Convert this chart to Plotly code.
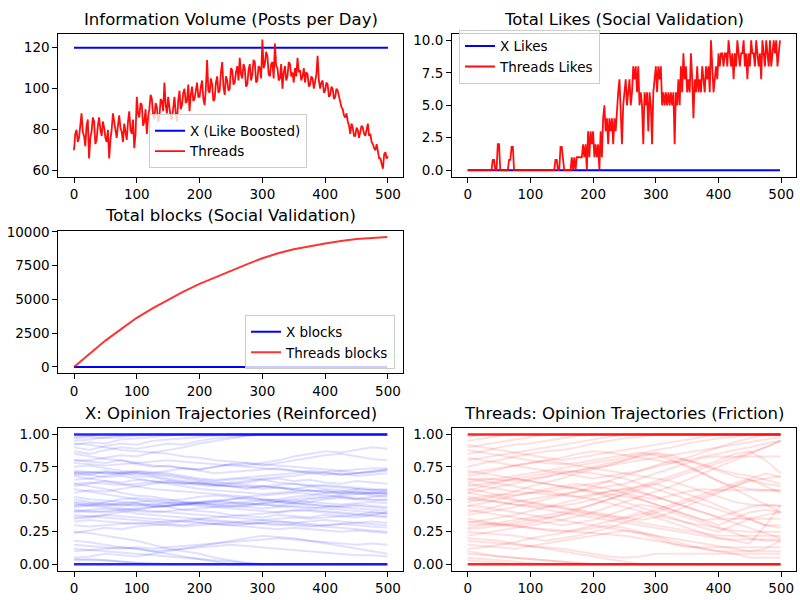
import plotly.graph_objects as go

# ---------------- DATA ----------------
posts_t = list(range(0, 501, 2))
threads_posts = [
    70, 78, 80, 74, 76, 84, 88, 79, 77, 72, 82, 85, 66, 76, 79, 86, 84, 73, 75, 82, 86, 80, 77, 84, 81,
    76, 74, 80, 66, 75, 80, 88, 84, 78, 76, 82, 87, 81, 79, 74, 83, 79, 75, 84, 89, 80, 78, 85, 71, 78,
    96, 88, 86, 93, 92, 82, 84, 90, 78, 86, 90, 97, 95, 87, 85, 93, 91, 84, 86, 95, 94, 89, 103, 92, 88,
    96, 92, 86, 85, 92, 96, 88, 84, 94, 99, 90, 92, 98, 100, 93, 94, 102, 89, 97, 101, 94, 95, 99, 103, 96,
    96, 101, 104, 95, 92, 100, 114, 99, 98, 105, 102, 94, 95, 103, 106, 98, 99, 108, 113, 101, 97, 106, 104, 99, 100,
    110, 109, 102, 103, 108, 111, 104, 115, 107, 105, 112, 110, 101, 102, 109, 112, 104, 107, 114, 113, 103, 104, 111, 110, 105,
    124, 110, 112, 118, 116, 107, 106, 112, 113, 105, 122, 111, 110, 104, 105, 112, 100, 108, 111, 104, 106, 113, 112, 106, 108,
    103, 110, 106, 115, 108, 109, 104, 106, 110, 103, 108, 107, 101, 102, 106, 105, 100, 103, 107, 116, 104, 100, 103, 104, 98,
    99, 103, 102, 96, 97, 101, 100, 95, 96, 100, 99, 96, 94, 91, 90, 87, 86, 88, 84, 82, 78, 83, 81, 77, 77,
    81, 80, 76, 79, 82, 81, 78, 77, 80, 83, 77, 78, 74, 73, 71, 70, 73, 68, 66, 66, 64, 61, 68, 69, 66, 67,
]
x_posts = [120] * len(posts_t)

likes_t = list(range(0, 500, 2))
threads_likes = [
    0, 0, 0, 0, 0, 0, 0, 0, 0, 0, 0, 0, 0, 0, 0, 0, 0, 0, 0,
    0, 0.8, 0.8, 0, 0, 2, 2, 0,
    0, 0, 0, 0, 0, 0,
    0.8, 0.8, 1.8, 1.8, 0,
    0, 0, 0, 0, 0, 0, 0, 0, 0, 0, 0, 0, 0, 0, 0, 0, 0, 0, 0, 0, 0, 0, 0, 0, 0, 0, 0, 0, 0, 0, 0, 0,
    0.8, 0.8, 0, 0, 1.8, 1.8, 0.9, 0,
    0, 0, 0, 0, 0,
    1, 0, 1, 0, 1, 1, 1, 1, 1, 2, 1, 2, 0, 3, 1, 3, 2, 3, 1, 2, 1, 2, 0, 3, 1,
    4, 5, 3, 4, 2, 4, 3, 4, 2, 4, 3, 5, 6, 7, 5, 2, 5, 6, 7, 5, 6, 7, 5, 6, 8,
    7, 8, 6, 8, 5, 6, 5, 2, 6, 5, 6, 3, 6, 5, 2, 6, 7, 8, 6, 8, 7, 8, 5, 6, 5,
    6, 5, 6, 5, 6, 5, 6, 2, 6, 5, 7, 5, 8, 6, 9, 7, 8, 6, 7, 6, 9, 7, 4, 7, 6,
    8, 6, 7, 6, 8, 7, 6, 8, 7, 8, 6, 10, 8, 6, 7, 8, 7, 9, 8, 9, 9, 8, 9, 9, 8,
    10, 9, 8, 9, 7, 9, 8, 10, 9, 8, 9, 9, 10, 8, 9, 7, 9, 8, 10, 9, 9, 8, 10, 9, 8,
    9, 7, 10, 9, 8, 10, 9, 8, 10, 8, 9, 10, 9, 10, 8, 9, 10,
]
x_likes = [0] * len(likes_t)

blocks_t = [0, 25, 50, 75, 100, 125, 150, 175, 200, 225, 250, 275, 300, 325, 350, 375, 400, 425, 450, 475, 499]
threads_blocks = [0, 1000, 1950, 2800, 3640, 4330, 4990, 5600, 6150, 6650, 7150, 7600, 8050, 8420, 8720,
                  8950, 9150, 9330, 9480, 9560, 9620]
x_blocks = [0] * len(blocks_t)

traj_t = [0, 25, 50, 75, 100, 125, 150, 175, 200, 225, 250, 275, 300, 325, 350, 375, 400, 425, 450, 475, 499]
extreme_levels = [0.0, 1.0]

x_traj = [
    [0.98, 0.99, 1, 1, 1, 1, 1, 1, 1, 1, 1, 1, 1, 1, 1, 1, 1, 1, 1, 1, 1],
    [0.95, 0.96, 0.98, 0.99, 1, 1, 1, 1, 1, 1, 1, 1, 1, 1, 1, 1, 1, 1, 1, 1, 1],
    [0.92, 0.94, 0.93, 0.96, 0.97, 0.98, 0.99, 1, 1, 1, 1, 1, 1, 1, 1, 1, 1, 1, 1, 1, 1],
    [0.90, 0.88, 0.91, 0.93, 0.92, 0.95, 0.96, 0.97, 0.98, 0.99, 1, 1, 1, 1, 1, 1, 1, 1, 1, 1, 1],
    [0.87, 0.85, 0.88, 0.90, 0.89, 0.91, 0.93, 0.92, 0.95, 0.97, 0.98, 0.99, 1, 1, 1, 1, 1, 1, 1, 1, 1],
    [0.80, 0.80, 0.82, 0.84, 0.83, 0.86, 0.88, 0.90, 0.93, 0.95, 0.97, 0.99, 1, 1, 1, 1, 1, 1, 1, 1, 1],
    [0.80, 0.79, 0.78, 0.80, 0.77, 0.75, 0.76, 0.74, 0.73, 0.75, 0.77, 0.76, 0.78, 0.80, 0.83, 0.85, 0.87, 0.86, 0.88, 0.90, 0.89],
    [0.75, 0.76, 0.74, 0.72, 0.71, 0.70, 0.72, 0.74, 0.73, 0.75, 0.77, 0.78, 0.76, 0.78, 0.80, 0.82, 0.84, 0.85, 0.83, 0.81, 0.80],
    [0.70, 0.71, 0.70, 0.69, 0.70, 0.68, 0.66, 0.64, 0.63, 0.62, 0.63, 0.64, 0.66, 0.67, 0.68, 0.70, 0.71, 0.72, 0.70, 0.71, 0.73],
    [0.71, 0.70, 0.72, 0.70, 0.68, 0.67, 0.65, 0.63, 0.62, 0.61, 0.60, 0.60, 0.58, 0.59, 0.57, 0.56, 0.57, 0.55, 0.56, 0.54, 0.55],
    [0.69, 0.69, 0.67, 0.68, 0.66, 0.64, 0.63, 0.62, 0.63, 0.61, 0.60, 0.58, 0.60, 0.59, 0.58, 0.60, 0.58, 0.57, 0.55, 0.53, 0.52],
    [0.65, 0.66, 0.68, 0.70, 0.72, 0.71, 0.70, 0.68, 0.66, 0.65, 0.66, 0.67, 0.68, 0.69, 0.70, 0.72, 0.71, 0.69, 0.70, 0.72, 0.73],
    [0.60, 0.62, 0.64, 0.63, 0.65, 0.64, 0.62, 0.60, 0.58, 0.57, 0.56, 0.55, 0.54, 0.55, 0.56, 0.57, 0.55, 0.56, 0.58, 0.57, 0.56],
    [0.55, 0.57, 0.56, 0.58, 0.60, 0.62, 0.63, 0.62, 0.61, 0.60, 0.62, 0.63, 0.65, 0.66, 0.64, 0.65, 0.63, 0.62, 0.64, 0.63, 0.62],
    [0.50, 0.48, 0.47, 0.46, 0.45, 0.46, 0.47, 0.48, 0.47, 0.46, 0.47, 0.48, 0.49, 0.48, 0.47, 0.48, 0.50, 0.51, 0.50, 0.52, 0.53],
    [0.48, 0.47, 0.46, 0.45, 0.46, 0.44, 0.45, 0.46, 0.48, 0.49, 0.48, 0.47, 0.46, 0.45, 0.47, 0.46, 0.45, 0.44, 0.43, 0.42, 0.41],
    [0.45, 0.46, 0.48, 0.50, 0.51, 0.50, 0.49, 0.50, 0.52, 0.53, 0.52, 0.50, 0.49, 0.50, 0.52, 0.53, 0.55, 0.54, 0.56, 0.55, 0.54],
    [0.52, 0.50, 0.49, 0.48, 0.47, 0.45, 0.44, 0.42, 0.41, 0.40, 0.38, 0.37, 0.36, 0.38, 0.37, 0.36, 0.38, 0.37, 0.36, 0.38, 0.37],
    [0.42, 0.41, 0.40, 0.41, 0.39, 0.38, 0.37, 0.36, 0.35, 0.34, 0.33, 0.32, 0.31, 0.30, 0.31, 0.30, 0.29, 0.28, 0.27, 0.26, 0.25],
    [0.40, 0.42, 0.43, 0.42, 0.41, 0.40, 0.41, 0.42, 0.43, 0.44, 0.45, 0.44, 0.43, 0.44, 0.45, 0.44, 0.43, 0.42, 0.41, 0.40, 0.39],
    [0.38, 0.37, 0.36, 0.35, 0.34, 0.33, 0.32, 0.33, 0.34, 0.33, 0.32, 0.31, 0.32, 0.33, 0.32, 0.31, 0.30, 0.31, 0.30, 0.29, 0.28],
    [0.35, 0.36, 0.38, 0.40, 0.42, 0.44, 0.45, 0.46, 0.47, 0.46, 0.45, 0.46, 0.47, 0.48, 0.47, 0.46, 0.45, 0.44, 0.45, 0.44, 0.43],
    [0.33, 0.34, 0.33, 0.32, 0.31, 0.32, 0.33, 0.34, 0.35, 0.36, 0.37, 0.38, 0.39, 0.40, 0.41, 0.42, 0.41, 0.40, 0.39, 0.38, 0.40],
    [0.30, 0.29, 0.30, 0.31, 0.32, 0.31, 0.30, 0.29, 0.30, 0.31, 0.32, 0.33, 0.34, 0.35, 0.36, 0.35, 0.36, 0.37, 0.38, 0.37, 0.36],
    [0.25, 0.24, 0.22, 0.20, 0.18, 0.15, 0.12, 0.10, 0.08, 0.05, 0.03, 0.01, 0, 0, 0, 0, 0, 0, 0, 0, 0],
    [0.24, 0.26, 0.28, 0.27, 0.29, 0.30, 0.31, 0.30, 0.32, 0.31, 0.30, 0.29, 0.28, 0.27, 0.28, 0.27, 0.26, 0.25, 0.26, 0.25, 0.24],
    [0.18, 0.17, 0.15, 0.13, 0.12, 0.10, 0.08, 0.06, 0.04, 0.02, 0, 0, 0, 0, 0, 0, 0, 0, 0, 0, 0],
    [0.15, 0.14, 0.13, 0.12, 0.13, 0.12, 0.13, 0.14, 0.15, 0.16, 0.17, 0.18, 0.19, 0.20, 0.19, 0.18, 0.17, 0.16, 0.15, 0.16, 0.15],
    [0.12, 0.11, 0.12, 0.13, 0.12, 0.10, 0.11, 0.12, 0.13, 0.14, 0.15, 0.14, 0.13, 0.12, 0.11, 0.10, 0.09, 0.08, 0.07, 0.07, 0.06],
    [0.10, 0.11, 0.10, 0.09, 0.08, 0.07, 0.06, 0.05, 0.04, 0.03, 0.02, 0.01, 0, 0, 0, 0, 0, 0, 0, 0, 0],
    [0.04, 0.03, 0.03, 0.02, 0.01, 0, 0, 0, 0, 0, 0, 0, 0, 0, 0, 0, 0, 0, 0, 0, 0],
    [0.03, 0.04, 0.03, 0.02, 0.01, 0.01, 0, 0, 0, 0, 0, 0, 0, 0, 0, 0, 0, 0, 0, 0, 0],
    [0.62, 0.60, 0.58, 0.55, 0.53, 0.52, 0.50, 0.48, 0.47, 0.48, 0.50, 0.52, 0.50, 0.49, 0.48, 0.50, 0.51, 0.52, 0.50, 0.49, 0.50],
    [0.58, 0.56, 0.54, 0.52, 0.50, 0.48, 0.47, 0.46, 0.45, 0.44, 0.43, 0.42, 0.41, 0.40, 0.42, 0.41, 0.40, 0.39, 0.38, 0.40, 0.39],
    [0.85, 0.83, 0.81, 0.80, 0.78, 0.76, 0.75, 0.74, 0.72, 0.70, 0.71, 0.72, 0.73, 0.74, 0.72, 0.70, 0.69, 0.70, 0.68, 0.69, 0.70],
    [0.93, 0.92, 0.90, 0.88, 0.87, 0.86, 0.85, 0.83, 0.82, 0.80, 0.79, 0.78, 0.77, 0.76, 0.75, 0.74, 0.73, 0.72, 0.73, 0.74, 0.74],
    [0.68, 0.66, 0.64, 0.62, 0.60, 0.58, 0.57, 0.56, 0.55, 0.54, 0.53, 0.52, 0.53, 0.54, 0.55, 0.54, 0.53, 0.52, 0.51, 0.50, 0.49],
    [0.46, 0.45, 0.44, 0.43, 0.42, 0.41, 0.40, 0.39, 0.38, 0.37, 0.36, 0.35, 0.34, 0.33, 0.32, 0.33, 0.34, 0.33, 0.32, 0.31, 0.30],
    [0.05, 0.06, 0.08, 0.07, 0.06, 0.08, 0.10, 0.12, 0.14, 0.16, 0.18, 0.20, 0.22, 0.21, 0.20, 0.18, 0.16, 0.14, 0.12, 0.10, 0.08],
    [0.97, 0.98, 0.97, 0.98, 0.99, 1, 1, 1, 1, 1, 1, 1, 1, 1, 1, 1, 1, 1, 1, 1, 1],
    [0.47, 0.46, 0.45, 0.46, 0.47, 0.46, 0.45, 0.46, 0.47, 0.48, 0.47, 0.46, 0.47, 0.48, 0.49, 0.48, 0.47, 0.46, 0.47, 0.48, 0.47],
    [0.72, 0.71, 0.70, 0.71, 0.70, 0.69, 0.68, 0.66, 0.64, 0.63, 0.62, 0.61, 0.60, 0.59, 0.58, 0.57, 0.56, 0.55, 0.54, 0.55, 0.54],
    [0.70, 0.69, 0.71, 0.70, 0.71, 0.70, 0.69, 0.67, 0.65, 0.64, 0.65, 0.66, 0.65, 0.63, 0.62, 0.60, 0.61, 0.60, 0.59, 0.58, 0.57],
    [0.36, 0.37, 0.38, 0.37, 0.36, 0.35, 0.34, 0.33, 0.32, 0.31, 0.30, 0.31, 0.32, 0.31, 0.30, 0.29, 0.30, 0.31, 0.32, 0.33, 0.32],
    [0.41, 0.40, 0.41, 0.42, 0.43, 0.44, 0.45, 0.47, 0.48, 0.49, 0.50, 0.51, 0.50, 0.49, 0.50, 0.51, 0.52, 0.53, 0.54, 0.55, 0.56],
    [0.44, 0.45, 0.46, 0.47, 0.48, 0.49, 0.48, 0.47, 0.46, 0.45, 0.44, 0.45, 0.46, 0.45, 0.44, 0.43, 0.44, 0.45, 0.46, 0.45, 0.44],
    [0.62, 0.63, 0.62, 0.61, 0.62, 0.63, 0.64, 0.63, 0.62, 0.61, 0.60, 0.59, 0.60, 0.61, 0.62, 0.61, 0.60, 0.59, 0.58, 0.57, 0.58],
    [0.78, 0.77, 0.76, 0.77, 0.78, 0.79, 0.80, 0.79, 0.78, 0.77, 0.76, 0.75, 0.74, 0.73, 0.72, 0.71, 0.70, 0.69, 0.70, 0.71, 0.72],
]

threads_traj = [
    [0.98, 1, 1, 1, 1, 1, 1, 1, 1, 1, 1, 1, 1, 1, 1, 1, 1, 1, 1, 1, 1],
    [0.95, 0.97, 0.99, 1, 1, 1, 1, 1, 1, 1, 1, 1, 1, 1, 1, 1, 1, 1, 1, 1, 1],
    [0.90, 0.92, 0.94, 0.96, 0.98, 1, 1, 1, 1, 1, 1, 1, 1, 1, 1, 1, 1, 1, 1, 1, 1],
    [0.85, 0.87, 0.90, 0.92, 0.93, 0.95, 0.97, 0.99, 1, 1, 1, 1, 1, 1, 1, 1, 1, 1, 1, 1, 1],
    [0.80, 0.82, 0.84, 0.86, 0.88, 0.90, 0.92, 0.94, 0.96, 0.98, 1, 1, 1, 1, 1, 1, 1, 1, 1, 1, 1],
    [0.75, 0.78, 0.80, 0.83, 0.85, 0.87, 0.88, 0.90, 0.93, 0.95, 0.97, 0.98, 1, 1, 1, 1, 1, 1, 1, 1, 1],
    [0.70, 0.72, 0.74, 0.76, 0.78, 0.80, 0.82, 0.85, 0.87, 0.86, 0.84, 0.82, 0.80, 0.78, 0.80, 0.83, 0.85, 0.88, 0.90, 0.93, 0.95],
    [0.65, 0.66, 0.65, 0.64, 0.66, 0.68, 0.70, 0.72, 0.74, 0.76, 0.78, 0.80, 0.82, 0.84, 0.86, 0.88, 0.90, 0.92, 0.94, 0.96, 0.98],
    [0.60, 0.62, 0.64, 0.66, 0.68, 0.70, 0.72, 0.71, 0.70, 0.68, 0.66, 0.62, 0.58, 0.54, 0.50, 0.46, 0.42, 0.38, 0.34, 0.30, 0.28],
    [0.55, 0.57, 0.60, 0.62, 0.65, 0.67, 0.70, 0.72, 0.75, 0.78, 0.80, 0.83, 0.85, 0.82, 0.80, 0.77, 0.73, 0.70, 0.68, 0.65, 0.62],
    [0.50, 0.52, 0.54, 0.53, 0.55, 0.56, 0.58, 0.60, 0.62, 0.64, 0.60, 0.56, 0.52, 0.48, 0.44, 0.40, 0.36, 0.40, 0.44, 0.46, 0.45],
    [0.45, 0.47, 0.50, 0.53, 0.55, 0.58, 0.60, 0.62, 0.60, 0.58, 0.55, 0.52, 0.50, 0.53, 0.56, 0.58, 0.57, 0.57, 0.57, 0.57, 0.57],
    [0.40, 0.42, 0.45, 0.48, 0.50, 0.52, 0.54, 0.56, 0.58, 0.60, 0.62, 0.66, 0.70, 0.74, 0.78, 0.82, 0.83, 0.83, 0.83, 0.83, 0.83],
    [0.35, 0.33, 0.31, 0.30, 0.32, 0.35, 0.38, 0.42, 0.46, 0.50, 0.54, 0.50, 0.46, 0.42, 0.38, 0.34, 0.30, 0.35, 0.40, 0.42, 0.40],
    [0.30, 0.31, 0.30, 0.32, 0.34, 0.36, 0.38, 0.40, 0.38, 0.36, 0.34, 0.32, 0.30, 0.28, 0.26, 0.24, 0.22, 0.22, 0.22, 0.22, 0.22],
    [0.25, 0.24, 0.23, 0.22, 0.20, 0.18, 0.20, 0.22, 0.25, 0.28, 0.32, 0.36, 0.40, 0.44, 0.48, 0.52, 0.56, 0.60, 0.64, 0.66, 0.68],
    [0.20, 0.19, 0.18, 0.16, 0.14, 0.12, 0.10, 0.08, 0.06, 0.04, 0.02, 0, 0, 0, 0, 0, 0, 0, 0, 0, 0],
    [0.15, 0.14, 0.13, 0.12, 0.14, 0.16, 0.18, 0.20, 0.22, 0.24, 0.26, 0.24, 0.20, 0.16, 0.13, 0.13, 0.13, 0.13, 0.13, 0.13, 0.13],
    [0.10, 0.08, 0.06, 0.05, 0.04, 0.03, 0.02, 0.01, 0, 0, 0, 0, 0, 0, 0, 0, 0, 0, 0, 0, 0],
    [0.05, 0.04, 0.03, 0.02, 0.01, 0, 0, 0, 0, 0, 0, 0, 0, 0, 0, 0, 0, 0, 0, 0, 0],
    [0.68, 0.70, 0.73, 0.76, 0.78, 0.80, 0.78, 0.76, 0.74, 0.72, 0.70, 0.68, 0.66, 0.64, 0.60, 0.56, 0.52, 0.48, 0.46, 0.45, 0.45],
    [0.62, 0.60, 0.58, 0.56, 0.55, 0.54, 0.53, 0.52, 0.54, 0.56, 0.58, 0.60, 0.62, 0.66, 0.70, 0.74, 0.78, 0.82, 0.86, 0.90, 0.95],
    [0.58, 0.56, 0.53, 0.50, 0.48, 0.46, 0.44, 0.42, 0.40, 0.38, 0.36, 0.34, 0.36, 0.40, 0.45, 0.50, 0.55, 0.60, 0.65, 0.60, 0.55],
    [0.52, 0.50, 0.48, 0.46, 0.45, 0.44, 0.45, 0.47, 0.50, 0.53, 0.56, 0.60, 0.64, 0.68, 0.72, 0.76, 0.80, 0.85, 0.87, 0.80, 0.70],
    [0.48, 0.50, 0.53, 0.56, 0.60, 0.63, 0.66, 0.70, 0.73, 0.76, 0.80, 0.84, 0.86, 0.84, 0.80, 0.76, 0.72, 0.68, 0.65, 0.62, 0.60],
    [0.42, 0.40, 0.38, 0.36, 0.34, 0.32, 0.30, 0.32, 0.34, 0.38, 0.42, 0.46, 0.44, 0.40, 0.36, 0.32, 0.28, 0.24, 0.20, 0.18, 0.18],
    [0.38, 0.40, 0.42, 0.44, 0.47, 0.50, 0.53, 0.56, 0.60, 0.64, 0.68, 0.72, 0.76, 0.80, 0.76, 0.70, 0.64, 0.60, 0.58, 0.57, 0.57],
    [0.33, 0.32, 0.31, 0.30, 0.28, 0.26, 0.25, 0.27, 0.30, 0.33, 0.36, 0.40, 0.36, 0.32, 0.28, 0.24, 0.20, 0.18, 0.16, 0.30, 0.45],
    [0.28, 0.30, 0.32, 0.34, 0.36, 0.38, 0.40, 0.43, 0.46, 0.50, 0.54, 0.58, 0.62, 0.58, 0.54, 0.50, 0.45, 0.40, 0.35, 0.30, 0.30],
    [0.22, 0.24, 0.26, 0.28, 0.30, 0.32, 0.34, 0.37, 0.40, 0.44, 0.48, 0.52, 0.56, 0.60, 0.65, 0.70, 0.75, 0.80, 0.85, 0.90, 0.95],
    [0.18, 0.17, 0.16, 0.15, 0.14, 0.13, 0.12, 0.10, 0.08, 0.06, 0.05, 0.06, 0.08, 0.08, 0.08, 0.08, 0.08, 0.08, 0.08, 0.08, 0.08],
    [0.12, 0.13, 0.15, 0.17, 0.20, 0.22, 0.24, 0.26, 0.28, 0.30, 0.28, 0.25, 0.22, 0.18, 0.15, 0.12, 0.10, 0.08, 0.05, 0.05, 0.05],
    [0.08, 0.07, 0.06, 0.05, 0.04, 0.03, 0.02, 0.01, 0, 0, 0, 0, 0, 0, 0, 0, 0, 0, 0, 0, 0],
    [0.03, 0.02, 0.01, 0, 0, 0, 0, 0, 0, 0, 0, 0, 0, 0, 0, 0, 0, 0, 0, 0, 0],
    [0.88, 0.86, 0.84, 0.82, 0.80, 0.78, 0.77, 0.78, 0.80, 0.82, 0.84, 0.86, 0.84, 0.80, 0.75, 0.70, 0.64, 0.58, 0.52, 0.46, 0.40],
    [0.92, 0.90, 0.88, 0.86, 0.84, 0.82, 0.80, 0.82, 0.84, 0.86, 0.88, 0.90, 0.92, 0.94, 0.96, 0.98, 1, 1, 1, 1, 1],
    [0.72, 0.70, 0.68, 0.66, 0.64, 0.62, 0.60, 0.58, 0.56, 0.54, 0.52, 0.50, 0.46, 0.42, 0.38, 0.34, 0.35, 0.35, 0.35, 0.35, 0.35],
    [0.45, 0.44, 0.42, 0.40, 0.38, 0.36, 0.34, 0.32, 0.30, 0.28, 0.26, 0.24, 0.22, 0.20, 0.18, 0.16, 0.14, 0.12, 0.10, 0.12, 0.18],
    [0.57, 0.60, 0.63, 0.66, 0.64, 0.62, 0.60, 0.58, 0.55, 0.52, 0.48, 0.44, 0.40, 0.36, 0.32, 0.28, 0.25, 0.30, 0.35, 0.38, 0.40],
    [0.27, 0.28, 0.30, 0.29, 0.28, 0.27, 0.26, 0.25, 0.24, 0.23, 0.22, 0.20, 0.18, 0.16, 0.14, 0.12, 0.10, 0.10, 0.10, 0.10, 0.10],
    [0.63, 0.65, 0.66, 0.68, 0.70, 0.72, 0.74, 0.76, 0.78, 0.80, 0.82, 0.85, 0.88, 0.90, 0.93, 0.95, 0.97, 0.98, 1, 1, 1],
    [0.66, 0.64, 0.62, 0.60, 0.58, 0.56, 0.54, 0.52, 0.50, 0.47, 0.44, 0.41, 0.38, 0.35, 0.32, 0.30, 0.28, 0.26, 0.25, 0.25, 0.25],
    [0.32, 0.34, 0.36, 0.38, 0.41, 0.44, 0.47, 0.50, 0.53, 0.56, 0.58, 0.55, 0.52, 0.48, 0.44, 0.40, 0.36, 0.32, 0.28, 0.24, 0.20],
    [0.55, 0.53, 0.51, 0.49, 0.47, 0.45, 0.43, 0.41, 0.39, 0.37, 0.35, 0.38, 0.42, 0.46, 0.50, 0.54, 0.58, 0.62, 0.66, 0.70, 0.67],
    [0.82, 0.80, 0.78, 0.76, 0.74, 0.72, 0.70, 0.68, 0.66, 0.68, 0.70, 0.72, 0.75, 0.78, 0.82, 0.86, 0.90, 0.94, 0.97, 1, 1],
    [0.50, 0.49, 0.48, 0.46, 0.44, 0.42, 0.40, 0.38, 0.36, 0.34, 0.32, 0.30, 0.28, 0.26, 0.24, 0.22, 0.20, 0.19, 0.19, 0.19, 0.19],
]

x_ticks = [0, 100, 200, 300, 400, 500]
posts_ticks = [60, 80, 100, 120]
likes_ticks = [0, 2.5, 5, 7.5, 10]
likes_ticktext = ["0.0", "2.5", "5.0", "7.5", "10.0"]
blocks_ticks = [0, 2500, 5000, 7500, 10000]
opinion_ticks = [0, 0.25, 0.5, 0.75, 1.0]
opinion_ticktext = ["0.00", "0.25", "0.50", "0.75", "1.00"]

titles = ["Information Volume (Posts per Day)", "Total Likes (Social Validation)",
          "Total blocks (Social Validation)", "X: Opinion Trajectories (Reinforced)",
          "Threads: Opinion Trajectories (Friction)"]

# ---------------- FIGURE ----------------
BLUE = "blue"
RED = "rgba(255,0,0,0.8)"
RED_DENSE = "rgba(255,0,0,0.95)"
fig = go.Figure()

fig.add_trace(go.Scatter(x=posts_t, y=x_posts, mode="lines", line=dict(color=BLUE, width=2),
                         name="X (Like Boosted)", xaxis="x", yaxis="y", legend="legend"))
fig.add_trace(go.Scatter(x=posts_t, y=threads_posts, mode="lines", line=dict(color=RED_DENSE, width=1.8),
                         name="Threads", xaxis="x", yaxis="y", legend="legend"))
fig.add_trace(go.Scatter(x=likes_t, y=x_likes, mode="lines", line=dict(color=BLUE, width=2),
                         name="X Likes", xaxis="x2", yaxis="y2", legend="legend2"))
fig.add_trace(go.Scatter(x=likes_t, y=threads_likes, mode="lines", line=dict(color=RED_DENSE, width=1.8),
                         name="Threads Likes", xaxis="x2", yaxis="y2", legend="legend2"))
fig.add_trace(go.Scatter(x=blocks_t, y=x_blocks, mode="lines", line=dict(color=BLUE, width=2),
                         name="X blocks", xaxis="x3", yaxis="y3", legend="legend3"))
fig.add_trace(go.Scatter(x=blocks_t, y=threads_blocks, mode="lines", line=dict(color=RED, width=2),
                         name="Threads blocks", xaxis="x3", yaxis="y3", legend="legend3"))

for tr in x_traj:
    fig.add_trace(go.Scatter(x=traj_t, y=tr, mode="lines", line=dict(color="rgba(0,0,255,0.12)", width=2),
                             showlegend=False, hoverinfo="skip", xaxis="x4", yaxis="y4"))
for lv in extreme_levels:
    fig.add_trace(go.Scatter(x=traj_t, y=[lv] * len(traj_t), mode="lines",
                             line=dict(color="rgba(0,0,255,0.85)", width=2.5),
                             showlegend=False, hoverinfo="skip", xaxis="x4", yaxis="y4"))
for tr in threads_traj:
    fig.add_trace(go.Scatter(x=traj_t, y=tr, mode="lines", line=dict(color="rgba(255,0,0,0.12)", width=2),
                             showlegend=False, hoverinfo="skip", xaxis="x5", yaxis="y5"))
for lv in extreme_levels:
    fig.add_trace(go.Scatter(x=traj_t, y=[lv] * len(traj_t), mode="lines",
                             line=dict(color="rgba(255,0,0,0.85)", width=2.5),
                             showlegend=False, hoverinfo="skip", xaxis="x5", yaxis="y5"))

W, H = 800, 600
col1 = [58.3 / W, 403 / W]
col2 = [452 / W, 796.3 / W]
row1 = [1 - 172.3 / H, 1 - 27.3 / H]
row2 = [1 - 372 / H, 1 - 227 / H]
row3 = [1 - 572.3 / H, 1 - 427.3 / H]

FONT = "DejaVu Sans"
TICKSIZE = 13.5

def ax(domain, anchor, **kw):
    d = dict(domain=domain, anchor=anchor, showline=True, linecolor="black", linewidth=1, mirror=True,
             ticks="outside", ticklen=5, tickwidth=1, tickcolor="black", showgrid=False, zeroline=False,
             tickfont=dict(family=FONT, size=TICKSIZE, color="black"))
    d.update(kw)
    return d

xr = [-25, 524]
layout = dict(
    width=W, height=H, margin=dict(l=0, r=0, t=0, b=0),
    paper_bgcolor="white", plot_bgcolor="white",
    font=dict(family=FONT, color="black"),
    xaxis=ax(col1, "y", range=xr, tickvals=x_ticks),
    yaxis=ax(row1, "x", range=[57.1, 126.7], tickvals=posts_ticks),
    xaxis2=ax(col2, "y2", range=xr, tickvals=x_ticks),
    yaxis2=ax(row1, "x2", range=[-0.5, 10.5], tickvals=likes_ticks, ticktext=likes_ticktext),
    xaxis3=ax(col1, "y3", range=xr, tickvals=x_ticks),
    yaxis3=ax(row2, "x3", range=[-481, 10101], tickvals=blocks_ticks, ticktext=[str(v) for v in blocks_ticks]),
    xaxis4=ax(col1, "y4", range=xr, tickvals=x_ticks),
    yaxis4=ax(row3, "x4", range=[-0.05, 1.05], tickvals=opinion_ticks, ticktext=opinion_ticktext),
    xaxis5=ax(col2, "y5", range=xr, tickvals=x_ticks),
    yaxis5=ax(row3, "x5", range=[-0.05, 1.05], tickvals=opinion_ticks, ticktext=opinion_ticktext),
)

leg_common = dict(bgcolor="rgba(255,255,255,0.8)", bordercolor="#cccccc", borderwidth=1,
                  font=dict(family=FONT, size=TICKSIZE, color="black"), itemwidth=30,
                  tracegroupgap=0)
layout["legend"] = dict(x=149 / W, y=1 - 109 / H, xanchor="left", yanchor="top", **leg_common)
layout["legend2"] = dict(x=459 / W, y=1 - 23 / H, xanchor="left", yanchor="top", **leg_common)
layout["legend3"] = dict(x=395 / W, y=1 - 368 / H, xanchor="right", yanchor="bottom", **leg_common)

title_pos = [
    ((col1[0] + col1[1]) / 2, 1 - 12.3 / H),
    ((col2[0] + col2[1]) / 2, 1 - 12.3 / H),
    ((col1[0] + col1[1]) / 2, 1 - 211.7 / H),
    ((col1[0] + col1[1]) / 2, 1 - 412.3 / H),
    ((col2[0] + col2[1]) / 2, 1 - 412.3 / H),
]
layout["annotations"] = [
    dict(text=t, x=p[0], y=p[1], xref="paper", yref="paper", xanchor="center", yanchor="middle",
         showarrow=False, font=dict(family=FONT, size=16.5, color="black"))
    for t, p in zip(titles, title_pos)
]
fig.update_layout(**layout)
fig.write_html("out.html")
